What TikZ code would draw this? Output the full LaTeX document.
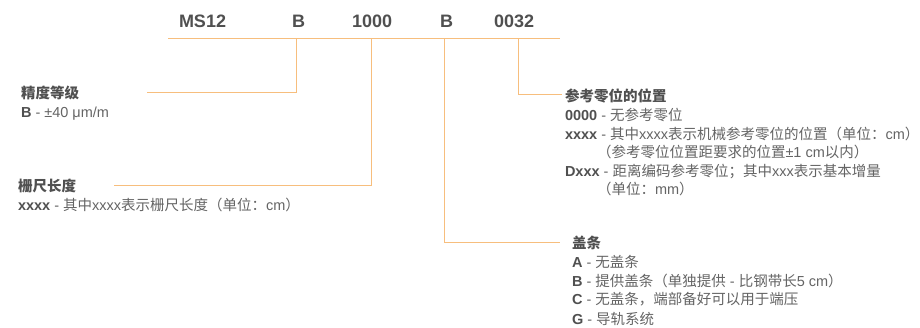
\documentclass[tikz,border=0pt]{standalone}
\usepackage{fontspec}
\setmainfont{Liberation Sans}
\newfontfamily\cjk[Scale=1.0]{Noto Sans CJK SC}
\newcommand\zh[1]{{\cjk #1}}
\definecolor{lineor}{RGB}{247,190,125}
\definecolor{txtdark}{RGB}{80,80,80}
\definecolor{txtbody}{RGB}{100,100,100}
\tikzset{
  lbl/.style={anchor=base west, inner sep=0pt, outer sep=0pt, text=txtbody, font=\fontsize{14.5}{16}\selectfont},
  head/.style={lbl, text=txtdark, font=\fontsize{14.5}{16}\selectfont\bfseries},
  code/.style={anchor=base west, inner sep=0pt, outer sep=0pt, text=txtdark, font=\fontsize{18}{20}\selectfont\bfseries},
  leader/.style={draw=lineor, line width=1pt}
}
\newcommand\bk[1]{\textcolor{txtdark}{\textbf{#1}}}
\begin{document}
\begin{tikzpicture}[x=1pt,y=-1pt]
\useasboundingbox (0,0) rectangle (920,328);
% top codes
\node[code] (cMS) at (179,27.5) {MS12};
\node[code] (cB1) at (292,27.5) {B};
\node[code] (c1000) at (352,27.5) {1000};
\node[code] (cB2) at (440,27.5) {B};
\node[code] (c0032) at (494,27.5) {0032};
% bar
\coordinate (barL) at (168,39);
\coordinate (barR) at (560,39);
\coordinate (t1) at (296,39);
\coordinate (t2) at (371,39);
\coordinate (t3) at (444,39);
\coordinate (t4) at (518,39);
\coordinate (e1) at (147,93);
\coordinate (e2) at (114,186);
\coordinate (e3) at (560,243);
\coordinate (e4) at (562,95);
\draw[leader] (barL) -- (barR);
\draw[leader] (t1) |- (e1);
\draw[leader] (t2) |- (e2);
\draw[leader] (t3) |- (e3);
\draw[leader] (t4) |- (e4);
% left: accuracy
\node[head] (h1) at (21,99) {\zh{精度等级}};
\node[lbl] (l1) at (21,118) {\bk{B} - ±40 μm/m};
% left: length
\node[head] (h2) at (18,192) {\zh{栅尺长度}};
\node[lbl] (l2) at (18,211) {\bk{xxxx} - \zh{其中}xxxx\zh{表示栅尺长度（单位：}cm\zh{）}};
% right: reference
\node[head] (h3) at (565,102) {\zh{参考零位的位置}};
\node[lbl] (r1) at (565,120.6) {\bk{0000} - \zh{无参考零位}};
\node[lbl] (r2) at (565,139.2) {\bk{xxxx} - \zh{其中}xxxx\zh{表示机械参考零位的位置（单位：}cm\zh{）}};
\node[lbl] (r3) at (597,157.8) {\zh{（参考零位位置距要求的位置}±1 cm\zh{以内）}};
\node[lbl] (r4) at (565,176.4) {\bk{Dxxx} - \zh{距离编码参考零位；其中}xxx\zh{表示基本增量}};
\node[lbl] (r5) at (597,195) {\zh{（单位：}mm\zh{）}};
% bottom: cover strip
\node[head] (h4) at (572,249) {\zh{盖条}};
\node[lbl] (b1) at (572,268) {\bk{A} - \zh{无盖条}};
\node[lbl] (b2) at (572,287) {\bk{B} - \zh{提供盖条（单独提供} - \zh{比钢带长}5 cm\zh{）}};
\node[lbl] (b3) at (572,305) {\bk{C} - \zh{无盖条，端部备好可以用于端压}};
\node[lbl] (b4) at (572,324) {\bk{G} - \zh{导轨系统}};
\end{tikzpicture}
\end{document}
